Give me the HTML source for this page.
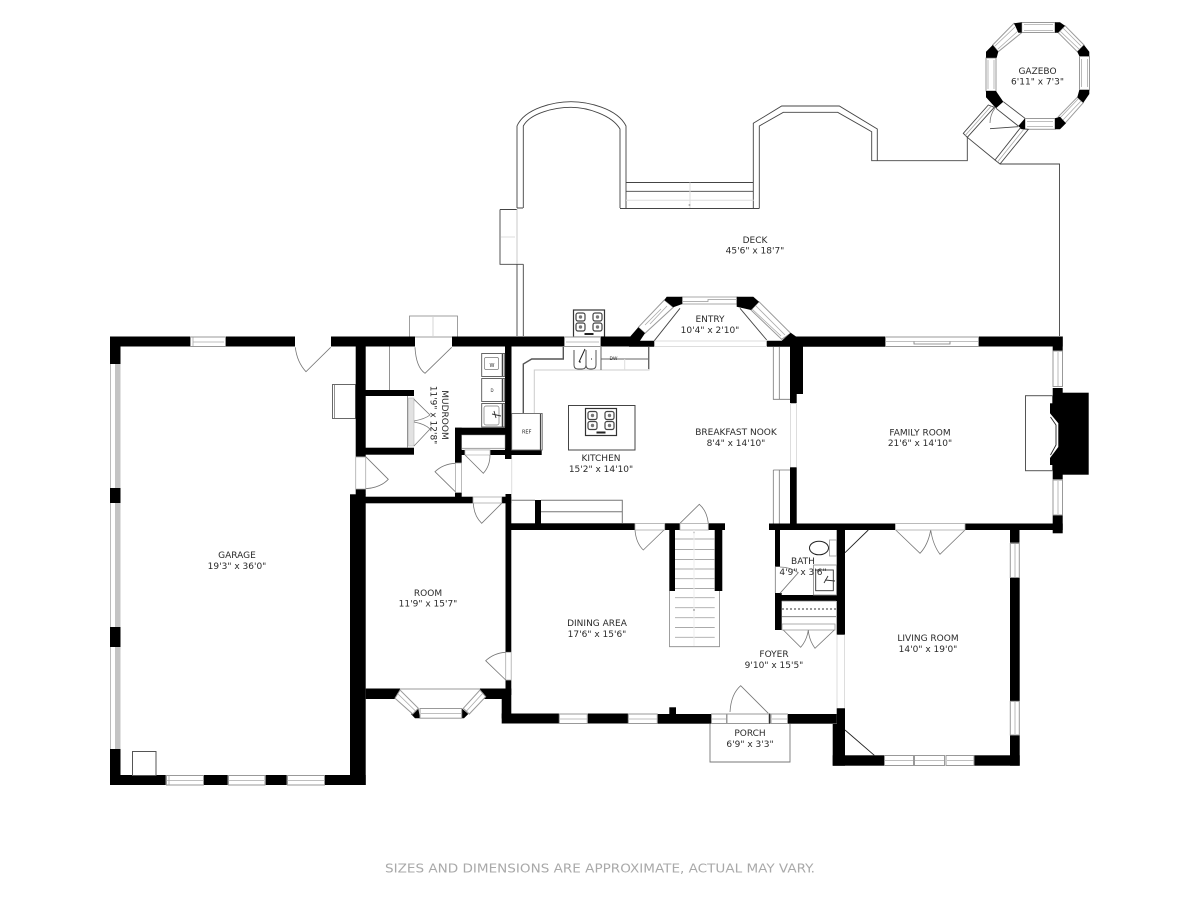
<!DOCTYPE html>
<html><head><meta charset="utf-8"><style>
html,body{margin:0;padding:0;background:#fff;width:1200px;height:900px;overflow:hidden}
svg{display:block;filter:blur(.3px)}
text{font-family:"DejaVu Sans",sans-serif;font-size:9px;fill:#2a2a2a;text-anchor:middle}
.w{fill:#fff;stroke:#999;stroke-width:1}
.c{fill:none;stroke:#aaa;stroke-width:.8}
.t{fill:none;stroke:#777;stroke-width:.8}
.d{fill:none;stroke:#444;stroke-width:.9}
.g{fill:none;stroke:#ddd;stroke-width:1}
</style></head><body>
<svg width="1200" height="900" viewBox="0 0 1200 900" xmlns="http://www.w3.org/2000/svg">
<defs>
<g id="b"><rect x="0" y="0" width="31" height="27" fill="#fff" stroke="#333" stroke-width="1.2"/><g fill="none" stroke="#444" stroke-width="1.2"><rect x="2.5" y="3" width="9" height="8" rx="2"/><rect x="19.5" y="3" width="9" height="8" rx="2"/><rect x="2.5" y="13" width="9" height="8" rx="2"/><rect x="19.5" y="13" width="9" height="8" rx="2"/></g><circle cx="7" cy="7" r="1.7" fill="#777"/><circle cx="24" cy="7" r="1.7" fill="#777"/><circle cx="7" cy="17" r="1.7" fill="#777"/><circle cx="24" cy="17" r="1.7" fill="#777"/><rect x="11" y="23" width="9" height="2" fill="#222"/></g>
</defs>

<!-- deck -->
<g>
<path class="d" d="M517 208V126C525 108 555 101.7 571 101.7S617 108 626 126V208"/>
<path class="d" d="M523.3 208V126C530 113 555 107.3 571 107.3S612 115 620 129V208"/>
<path class="d" d="M620 208.5H759.5M626 182.5H753.5M626 191.3H753.5"/>
<path class="d" d="M753.3 208V123.3L781.7 106H839.3L877.3 129V160.7H967.3V137.3"/>
<path class="d" d="M759.3 208V126L783.3 112.3H837.7L871.7 131.7V160.7H877"/>
<path class="d" d="M1000 164H1059.5V336"/>
<path class="d" d="M500 209.5H517M500 209.5V264.3H523.3M517 264.3V336M523.3 264.3V336M517 208H523"/>
</g>
<path class="g" d="M626 200.3H753.5M690 182.5V208"/>
<path class="g" d="M501 237H515"/>
<path d="M517 209V264" stroke="#bbb" stroke-width=".8"/>
<circle cx="689.5" cy="205" r="1" fill="#aaa"/>

<!-- gazebo -->
<g>
<rect class="w" x="1021.7" y="22.5" width="33.3" height="10"/><path class="c" d="M1024 24.5H1053M1024 30.5H1053"/>
<rect class="w" x="1079.5" y="56.5" width="10" height="33.3"/><path class="c" d="M1081.5 59V87M1087.5 59V87"/>
<rect class="w" x="986" y="58" width="10" height="33"/><path class="c" d="M988 60V89M994 60V89"/>
<rect class="w" x="1025" y="118.5" width="30" height="10.8"/><path class="c" d="M1027 121.5H1053M1027 126.5H1053"/>
<polygon class="w" points="992.7,45 1014,23.3 1021.7,32.7 998.3,51.7"/><path class="c" d="M995 46L1015 27M998 49L1018 31"/>
<polygon class="w" points="1065,25.7 1084,45 1077.3,51.7 1058.3,32.7"/><path class="c" d="M1063 28L1081 46M1060 31L1079 49"/>
<polygon class="w" points="1083.3,102.7 1065,123.3 1058.3,116.7 1077.3,97.3"/><path class="c" d="M1081 101L1063 120M1078 99L1060 118"/>
<polygon class="d" points="988.3,105 963.3,133.3 967.3,137.3 994.3,107.3"/><path class="c" d="M991.3 106L965.3 135.3"/>
<polygon class="d" points="1028.3,129.3 1000,164 995,160 1020,128.3"/><path class="c" d="M1024 129L997.5 162"/>
<path class="d" d="M967.3 137.3L995 160"/>
<path class="d" d="M1003.3 101.7L1025 118.3M996 108.3L1018.3 126"/>
<path class="d" d="M990 128.7L1018.3 126.7" stroke="#666"/>
<path class="t" d="M990 123Q990 115 995 108"/>
<g fill="#000">
<polygon points="1014,23.3 1021.7,22.3 1021.7,32.7 1018.3,32.7"/>
<polygon points="1055,22.3 1060,22.3 1065,25.7 1058,32.7 1055,32.7"/>
<polygon points="1077.3,51.7 1084,45 1089.3,51.7 1089.3,56 1079.3,56"/>
<polygon points="1079.3,90 1089.3,90 1089.3,94 1083.3,102.7 1077.3,97.3"/>
<polygon points="986,51.7 992.7,45 998.3,51.7 996.7,57.7 986,57.7"/>
<polygon points="986,91 996,91 1003.3,101.7 996,108.3 986,97.3"/>
<polygon points="1018.3,126 1025,118.3 1025,129.3 1021.7,129.3"/>
<polygon points="1055,118.3 1060,116.7 1066,123.3 1060,129.3 1055,129.3"/>
</g>
</g>

<!-- outside boxes -->
<rect x="409.5" y="316" width="48" height="21" fill="none" stroke="#888" stroke-width=".8"/>
<rect x="332.5" y="384.5" width="23" height="34" fill="none" stroke="#444" stroke-width=".8"/>
<path class="t" d="M334.5 385V418"/>
<use href="#b" x="573.5" y="310"/>
<path d="M433 317V336" stroke="#ccc" stroke-width=".8"/>

<!-- entry bay windows (under black) -->
<polygon class="w" points="664.3,300 638.3,327.3 645,333.3 673.3,307.3"/>
<path class="c" d="M661 309L645 325M667 306L650 324"/>
<polygon class="w" points="759,301.7 790.7,333.3 781.7,339.3 751,310"/>
<path class="c" d="M755 305L785 335M752 309L781 336"/>
<rect x="682" y="297" width="55" height="7" fill="#fff" stroke="#aaa" stroke-width="1"/><path d="M683 301.5H708V299.5H736" fill="none" stroke="#999" stroke-width=".8"/>

<!-- black walls -->
<g fill="#000">
<rect x="110" y="336.5" width="80" height="10"/>
<rect x="226" y="336.5" width="69" height="10"/>
<rect x="331" y="336.5" width="84" height="10"/>
<rect x="452" y="336.5" width="112" height="10"/>
<rect x="601" y="336.5" width="29" height="10"/>
<polygon points="630,336.7 638.3,327.3 645,333.3 640,340.7 654.3,340.7 654.3,346.7 629,346.7"/>
<polygon points="666.7,296.7 682.3,296.7 682.3,304 673.3,307.3 664.3,300"/>
<polygon points="736.7,296.7 753.3,296.7 759,301.7 751,310 736.7,306.7"/>
<polygon points="766.7,340.7 781.7,340.7 790.7,332.7 796,336.5 885,336.5 885,346.7 803,346.7 803,394 796.7,394 796.7,403.3 790,403.3 790,346.7 766.7,346.7"/>
<rect x="978.7" y="336.5" width="84" height="10"/>
<rect x="1052.7" y="336.5" width="10" height="14.2"/>
<rect x="1052.7" y="388" width="10" height="91.3"/>
<rect x="1060" y="392.7" width="28.7" height="82"/>
<rect x="1052.7" y="515.3" width="10" height="18"/>
<rect x="769" y="523.5" width="126" height="6.5"/>
<rect x="965" y="523.5" width="97.7" height="6.5"/>
<rect x="790" y="467.3" width="6.7" height="56.5"/>
<rect x="1010" y="530" width="9.5" height="12.7"/>
<rect x="1010" y="577.3" width="9.7" height="123.7"/>
<rect x="1010" y="735" width="9.7" height="30.7"/>
<rect x="974" y="755.3" width="45.7" height="10.4"/>
<rect x="832.7" y="755.3" width="51.3" height="10.4"/>
<polygon points="836.7,708.3 845,708.3 845,765.7 832.7,765.7 832.7,724 836.7,724"/>
<rect x="657.3" y="714" width="53.7" height="9.7"/>
<rect x="669.3" y="707.3" width="6.7" height="7"/>
<rect x="787.7" y="714" width="49" height="9.7"/>
<rect x="587.7" y="713.5" width="40.3" height="10"/>
<rect x="501.7" y="713.5" width="57.3" height="10"/>
<rect x="501.7" y="688.5" width="9.6" height="30"/>
<rect x="505.5" y="680" width="5.8" height="15"/>
<rect x="365.7" y="688.5" width="34.3" height="10.5"/>
<rect x="480" y="688.5" width="25.7" height="10.5"/>
<rect x="505.5" y="494" width="5.8" height="158.3"/>
<rect x="505" y="346.5" width="6.5" height="112.5"/>
<rect x="511" y="523.3" width="124" height="6.7"/>
<rect x="664.7" y="523.3" width="15.3" height="6.7"/>
<rect x="708.3" y="523.3" width="16.7" height="6.7"/>
<rect x="535" y="500" width="6" height="23.5"/>
<rect x="669.3" y="530" width="5.7" height="61"/>
<rect x="714.7" y="530" width="7.6" height="61"/>
<rect x="775" y="530" width="5" height="36.7"/>
<rect x="775" y="593" width="6.7" height="37"/>
<rect x="775" y="595" width="62" height="6"/>
<rect x="836.7" y="530" width="8.3" height="104.7"/>
<rect x="110" y="336.5" width="10.5" height="27.5"/>
<rect x="110" y="488" width="10.5" height="15"/>
<rect x="110" y="627" width="10.5" height="20"/>
<rect x="110" y="749" width="10.5" height="36"/>
<rect x="110" y="775" width="55.7" height="10"/>
<rect x="204" y="775" width="23.7" height="10"/>
<rect x="265.7" y="775" width="21" height="10"/>
<rect x="325" y="775" width="40.7" height="10"/>
<rect x="350" y="494.3" width="15.7" height="290.7"/>
<rect x="355.7" y="346.5" width="10" height="110.2"/>
<rect x="355.7" y="488.7" width="10" height="6"/>
<rect x="365" y="390" width="49" height="6"/>
<rect x="365" y="447.7" width="49" height="7"/>
<rect x="455" y="427.7" width="50" height="7.3"/>
<rect x="455" y="427.7" width="6.7" height="35.3"/>
<rect x="455" y="492.3" width="6.7" height="5"/>
<rect x="365" y="496.7" width="108" height="6.6"/>
<rect x="501.7" y="496.7" width="9.5" height="6.6"/>
<rect x="461" y="450" width="4" height="5"/>
<rect x="490" y="450" width="15" height="5"/>
<rect x="511" y="450" width="30.7" height="5"/>
<polygon points="411,714 418.3,708.3 420,718.3 415,718.3"/>
<polygon points="461.7,708.3 468.3,714 464,718.3 461.7,718.3"/>
</g>

<!-- windows -->
<g>
<rect class="w" x="190.5" y="337" width="35" height="9.5"/><path class="c" d="M193 342H224M193 337.5V346"/>
<rect class="w" x="564.5" y="337" width="36" height="9.5"/><path class="c" d="M566 342H599"/>
<rect class="w" x="885.5" y="337" width="93" height="9.5"/><path class="c" d="M886 341.5H978"/><path class="t" d="M914 341.5V344H950V341.5"/>
<rect class="w" x="1053" y="351" width="9.5" height="35.5"/><path class="c" d="M1058 352V386"/>
<rect class="w" x="1053" y="480" width="9.5" height="35"/><path class="c" d="M1058 481V514"/>
<rect class="w" x="1010.3" y="543.5" width="9" height="34"/><path class="c" d="M1015 544V577"/>
<rect class="w" x="1010.3" y="701.3" width="9" height="33.7"/><path class="c" d="M1015 702V734"/>
<rect class="w" x="884.5" y="755.5" width="29" height="10"/><path class="c" d="M885 760.5H913"/>
<rect class="w" x="914.5" y="755.5" width="30" height="10"/><path class="c" d="M915 760.5H944"/>
<rect class="w" x="946" y="755.5" width="28" height="10"/><path class="c" d="M947 760.5H974"/>
<rect class="w" x="559.3" y="714" width="28" height="9.5"/><path class="c" d="M560 719H587"/>
<rect class="w" x="628.3" y="714" width="29" height="9.5"/><path class="c" d="M629 719H657"/>
<rect class="w" x="711.5" y="714" width="15" height="9.5"/><path class="c" d="M712 719H726"/>
<rect class="w" x="771" y="714" width="16.5" height="9.5"/><path class="c" d="M772 719H787"/>
<rect class="w" x="727" y="714" width="42" height="9.5"/>
<path d="M769.7 713.5V723.7" stroke="#222" stroke-width="1.2"/>
<rect class="w" x="420" y="708.5" width="41.7" height="9.7"/><path class="c" d="M421 713.5H461"/>
<polygon class="w" points="395,698.3 400,690 418.3,708.3 412.7,714"/><path class="c" d="M398 694L415.5 711"/>
<polygon class="w" points="463.3,708.3 480,690 485.7,696.7 469.3,714"/><path class="c" d="M466.5 711L483 693"/>
<path class="t" d="M400 689H480"/>
<rect class="w" x="166.5" y="775.5" width="37" height="9.5"/><path class="c" d="M167 780.5H203M169 775.5V785"/>
<rect class="w" x="228.5" y="775.5" width="36.5" height="9.5"/><path class="c" d="M229 780.5H264"/>
<rect class="w" x="287.5" y="775.5" width="37" height="9.5"/><path class="c" d="M288 780.5H324"/>
</g>
<!-- garage left wall -->
<g fill="#c4c4c4">
<rect x="115" y="364" width="5.5" height="124"/>
<rect x="115" y="503" width="5.5" height="124"/>
<rect x="115" y="647" width="5.5" height="102"/>
</g>
<path class="c" d="M110.5 364V488M110.5 503V627M110.5 647V749"/>
<rect x="132.5" y="751.5" width="23.5" height="24" fill="none" stroke="#555" stroke-width="1"/>

<!-- mudroom detail -->
<path class="t" d="M389.5 346.5V390"/>
<rect x="408.5" y="398" width="5.5" height="48" fill="#e2e2e2" stroke="#aaa" stroke-width=".5"/>
<path class="t" d="M407.5 396V448"/>
<path class="t" d="M414 399.3L430 415Q425 419 414 421M414 422Q425 424 430 429L414 446"/>
<path class="t" d="M451.7 347.3L425 373.3Q416 367 415 347.3"/>
<path class="t" d="M330.7 347.3L306 371.7Q297 362 295.3 347.3"/>
<rect x="355.7" y="457" width="10" height="32" fill="#fff" stroke="#aaa" stroke-width=".8"/>
<path class="t" d="M365.7 456.7L388.3 479.3Q380 488 365.7 488.7"/>
<rect x="455.5" y="463" width="6" height="29.5" fill="#fff" stroke="#aaa" stroke-width=".8"/>
<path class="t" d="M455.3 463.3Q443 464 435 471.7L455.3 491.7"/>
<rect x="465" y="450" width="25" height="5" fill="#fff" stroke="#bbb" stroke-width=".8"/>
<path class="t" d="M465 455L483.3 473.3Q490 466 490 455"/>
<rect x="461.7" y="435" width="43.3" height="13.5" fill="#fff" stroke="#999" stroke-width=".5"/>
<path d="M462 448.5H505" stroke="#aaa" stroke-width="1.2"/>
<rect x="473" y="497" width="28.7" height="6" fill="#fff" stroke="#aaa" stroke-width=".8"/>
<path class="t" d="M501.7 503.3L481.7 523.3Q474 516 473.3 503.3"/>
<g fill="#fff" stroke="#555" stroke-width=".9">
<rect x="481.7" y="353.5" width="23" height="23"/><rect x="481.7" y="378.5" width="23" height="23"/><rect x="481.7" y="403.5" width="23" height="23.5"/>
<rect x="484.5" y="357.5" width="14" height="12" rx="1.5" stroke="#777" stroke-width=".7"/>
<rect x="484" y="406" width="15" height="19" rx="2" stroke="#777" stroke-width=".7"/>
</g>
<path d="M492 414L501 416M494 411L496 418" stroke="#333" stroke-width=".9"/>
<path d="M502.5 354V376M502.5 379V401M502.5 404V427" stroke="#444" stroke-width="1.5"/>
<text x="492" y="367" style="font-size:5px">W</text><text x="492" y="392" style="font-size:4px">D</text>

<!-- kitchen -->
<path d="M563.3 347V359H531.7L523.3 364V413.3" fill="none" stroke="#555" stroke-width="1.4"/>
<path d="M649 347V370H534.3V413" fill="none" stroke="#ccc" stroke-width="1"/>
<path d="M648.7 347V369" stroke="#555" stroke-width="1.2"/>
<path d="M601 347V370M601 359H648" stroke="#666" stroke-width="1"/>
<path d="M624.7 359V370" stroke="#ddd"/>
<path d="M574 350V365Q574 369 578 369H582Q586 369 586 365V350M586 365Q586 369 590 369H592Q596 369 596 365V350" fill="none" stroke="#444" stroke-width=".9"/>
<path d="M579 362L585 349M579 362h2M591 359h1" stroke="#222" stroke-width="1"/>
<text x="613.5" y="360" style="font-size:4.5px">DW</text>
<rect x="511.7" y="413.5" width="30.5" height="36.5" fill="#fff" stroke="#666" stroke-width=".9"/>
<path d="M540.5 414V450" stroke="#444" stroke-width="1.2"/>
<text x="526.7" y="433.5" style="font-size:5px">REF</text>
<rect x="568.5" y="405.5" width="66.5" height="44.5" fill="#fff" stroke="#444" stroke-width="1"/>
<use href="#b" x="585.5" y="408.5"/>
<path d="M511.7 459V494" stroke="#ddd" stroke-width="1"/>
<path d="M511.7 500.3H535M541 500.3H622.3V523M541 511.7H622.3" fill="none" stroke="#777" stroke-width="1"/>
<path class="g" d="M654.3 346.5H767M654.3 341H766.7"/>
<path class="d" d="M654.3 340.7L680 308.3M740 308.3L766.7 340" stroke="#333"/>
<path class="t" d="M773.3 346.7V399.3H790M779.3 346.7V399.3M773.3 470H790M773.3 470V523.5M779.3 470V523.5" stroke="#666"/>
<path class="g" d="M790.5 403V467M796.5 403V467"/>

<!-- dining doors -->
<path class="t" d="M664 530L643.3 550Q636 543 635 530"/>
<rect x="635" y="523.5" width="29.7" height="6.5" fill="#fff" stroke="#aaa" stroke-width=".8"/>
<path class="t" d="M680 523.3L699.3 504.3Q707 511 708.3 523.3"/>
<rect x="680" y="523.5" width="28.3" height="6.5" fill="#fff" stroke="#aaa" stroke-width=".8"/>
<circle cx="694" cy="532.5" r="1" fill="#aaa"/>
<rect x="505.7" y="652.3" width="5.5" height="27.7" fill="#fff" stroke="#aaa" stroke-width=".8"/>
<path class="t" d="M505.7 680L485.7 660.7Q494 653 505.7 652.3"/>

<!-- stairs -->
<path d="M675 539H714.7M675 549.5H714.7M675 559.5H714.7M675 569H714.7M675 578.7H714.7M675 588.5H714.7M675 597.7H714.7M675 607.7H714.7M675 617.7H714.7M675 627.5H714.7M675 637.3H714.7" stroke="#aaa" stroke-width=".9"/>
<path d="M669.5 591V646.7H719.5V591" fill="none" stroke="#888" stroke-width=".8"/>
<path d="M694 530V646" stroke="#eee"/>
<circle cx="694" cy="610" r="1" fill="#aaa"/>

<!-- bath -->
<ellipse cx="819" cy="548" rx="9.5" ry="6.8" fill="#fff" stroke="#222" stroke-width="1"/>
<rect x="829.5" y="540" width="7" height="16" fill="#fff" stroke="#999" stroke-width=".8"/>
<rect x="813.5" y="565" width="23" height="30" fill="#fff" stroke="#888" stroke-width=".8"/>
<rect x="815.7" y="570" width="17.6" height="20.7" fill="none" stroke="#333" stroke-width=".9"/>
<path d="M825 580L835 581M824 583L828 576" stroke="#333" stroke-width=".9"/>
<path class="t" d="M775.3 567V593"/>
<path class="t" d="M780 593.3L798.3 572.7Q790 567 780 567"/>
<path class="t" d="M781.7 601H836M781.7 616.7H836" stroke="#999"/>
<rect x="782" y="624" width="53" height="6" fill="#fff" stroke="#999" stroke-width=".8"/>
<path d="M782 609H836" stroke="#333" stroke-width=".9" stroke-dasharray="2 2"/>
<path class="t" d="M783.3 630L800.7 647.3Q807 640 808.3 630Q809 640 815 648.3L834.3 630"/>
<path d="M845 552.7L868.3 530M845 730L874.3 755.3" fill="none" stroke="#222" stroke-width=".9"/>
<path class="t" d="M895.7 530L920 553.3Q928 545 930.7 530Q933 545 940 554.3L965 530"/>
<rect x="895.5" y="523.5" width="69.5" height="6.5" fill="#fff" stroke="#aaa" stroke-width=".8"/>
<path class="g" d="M837 634.7V708M844.5 634.7V708"/>

<!-- fireplace -->
<rect x="1025.5" y="395.7" width="27" height="75" fill="#fff" stroke="#555" stroke-width="1"/>
<rect x="1050" y="403.3" width="4" height="61.7" fill="#000"/>
<polygon points="1050,413.3 1058.3,423.3 1058.3,447 1050,458" fill="#fff"/>
<path d="M1050.5 417L1056 425V445L1050.5 455" fill="none" stroke="#222" stroke-width=".9"/>

<!-- porch -->
<path d="M710 723.7V762H790V723.7" fill="none" stroke="#777" stroke-width=".9"/>
<path class="t" d="M768.3 713.3L740.7 685.7Q731 694 730 712"/>

<!-- labels -->
<text x="237" y="558">GARAGE</text><text x="237" y="569">19'3" x 36'0"</text>
<text x="428" y="596">ROOM</text><text x="428" y="606.5">11'9" x 15'7"</text>
<text x="597" y="626">DINING AREA</text><text x="597" y="637">17'6" x 15'6"</text>
<text x="774" y="657">FOYER</text><text x="774" y="668">9'10" x 15'5"</text>
<text x="601" y="461">KITCHEN</text><text x="601" y="472">15'2" x 14'10"</text>
<text x="736" y="435">BREAKFAST NOOK</text><text x="736" y="446">8'4" x 14'10"</text>
<text x="920" y="435.5">FAMILY ROOM</text><text x="920" y="446">21'6" x 14'10"</text>
<text x="710" y="322">ENTRY</text><text x="710" y="333">10'4" x 2'10"</text>
<text x="755" y="243">DECK</text><text x="755" y="253.5">45'6" x 18'7"</text>
<text x="1037.5" y="74">GAZEBO</text><text x="1037.5" y="84.5">6'11" x 7'3"</text>
<text x="928" y="641">LIVING ROOM</text><text x="928" y="652">14'0" x 19'0"</text>
<text x="803" y="564">BATH</text><text x="803" y="575">4'9" x 3'6"</text>
<text x="750" y="736">PORCH</text><text x="750" y="747">6'9" x 3'3"</text>
<text transform="translate(442 415) rotate(90)">MUDROOM</text>
<text transform="translate(430.5 415) rotate(90)">11'9" x 12'8"</text>
<text x="600" y="872.5" style="font-size:12.5px;fill:#a9a9a9" textLength="430" lengthAdjust="spacingAndGlyphs">SIZES AND DIMENSIONS ARE APPROXIMATE, ACTUAL MAY VARY.</text>
</svg>
</body></html>
